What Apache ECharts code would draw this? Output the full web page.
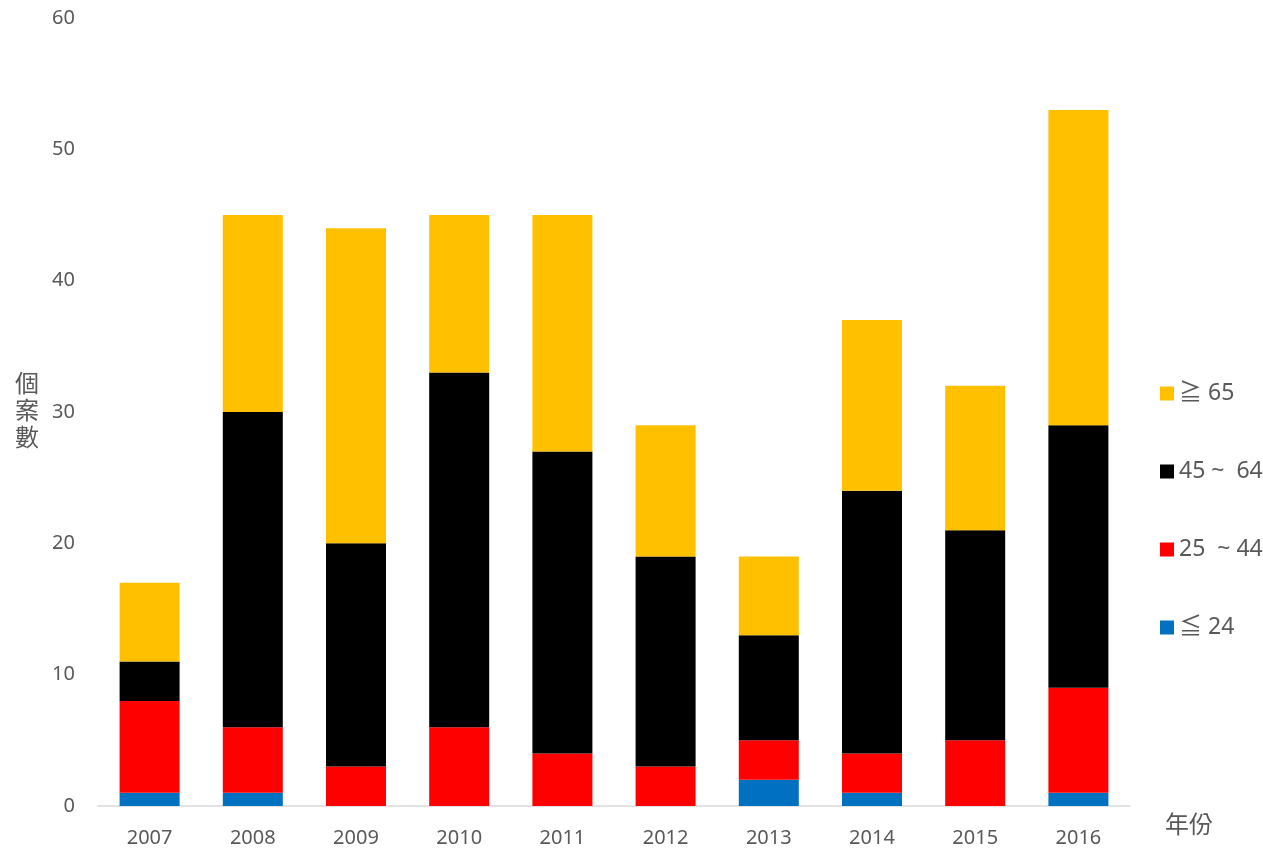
<!DOCTYPE html>
<html>
<head>
<meta charset="utf-8">
<script src="https://cdn.jsdelivr.net/npm/echarts@6/dist/echarts.min.js"></script>
<style>
  html, body { margin: 0; padding: 0; background: #fff; }
  #chart { width: 1263px; height: 848px; }
</style>
</head>
<body>
<div id="chart"></div>
<script>
const years = ['2007', '2008', '2009', '2010', '2011', '2012', '2013', '2014', '2015', '2016']
const ageUnder24 = [1, 1, 0, 0, 0, 0, 2, 1, 0, 1]
const age25to44 = [7, 5, 3, 6, 4, 3, 3, 3, 5, 8]
const age45to64 = [3, 24, 17, 27, 23, 16, 8, 20, 16, 20]
const age65plus = [6, 15, 24, 12, 18, 10, 6, 13, 11, 24]
const legendNames = ['≧ 65', '45 ~  64', '25  ~ 44', '≦ 24']

const textColor = '#595959'
const font = '"Noto Sans", "Noto Sans CJK TC", sans-serif'

const chart = echarts.init(document.getElementById('chart'))

function stackBar(name, data, color) {
  return {
    name,
    type: 'bar',
    stack: 'total',
    barWidth: 60,
    data,
    itemStyle: { color },
  }
}

chart.setOption({
  animation: false,
  textStyle: { fontFamily: font },
  grid: { left: 98, right: 133, top: 18, bottom: 42 },
  legend: {
    orient: 'vertical',
    left: 1155,
    top: 377,
    itemWidth: 14,
    itemHeight: 14,
    itemGap: 55,
    icon: 'rect',
    data: legendNames,
    textStyle: { color: textColor, fontSize: 23, fontFamily: font },
  },
  xAxis: {
    type: 'category',
    data: years,
    name: '年份',
    nameLocation: 'end',
    nameGap: 35,
    nameTextStyle: { color: textColor, fontSize: 24, verticalAlign: 'top', padding: [8, 0, 0, 0] },
    axisLine: { lineStyle: { color: '#d9d9d9', width: 1.5 } },
    axisTick: { show: false },
    axisLabel: { color: textColor, fontSize: 20, margin: 22 },
  },
  yAxis: {
    type: 'value',
    min: 0,
    max: 60,
    interval: 10,
    name: '個\n案\n數',
    nameLocation: 'middle',
    nameRotate: 0,
    nameGap: 59,
    nameTextStyle: { color: textColor, fontSize: 24, lineHeight: 27 },
    axisLine: { show: false },
    axisTick: { show: false },
    splitLine: { show: false },
    axisLabel: { color: textColor, fontSize: 20, margin: 23 },
  },
  series: [
    stackBar(legendNames[3], ageUnder24, '#0070C0'),
    stackBar(legendNames[2], age25to44, '#FF0000'),
    stackBar(legendNames[1], age45to64, '#000000'),
    stackBar(legendNames[0], age65plus, '#FFC000'),
  ],
})
</script>
</body>
</html>
